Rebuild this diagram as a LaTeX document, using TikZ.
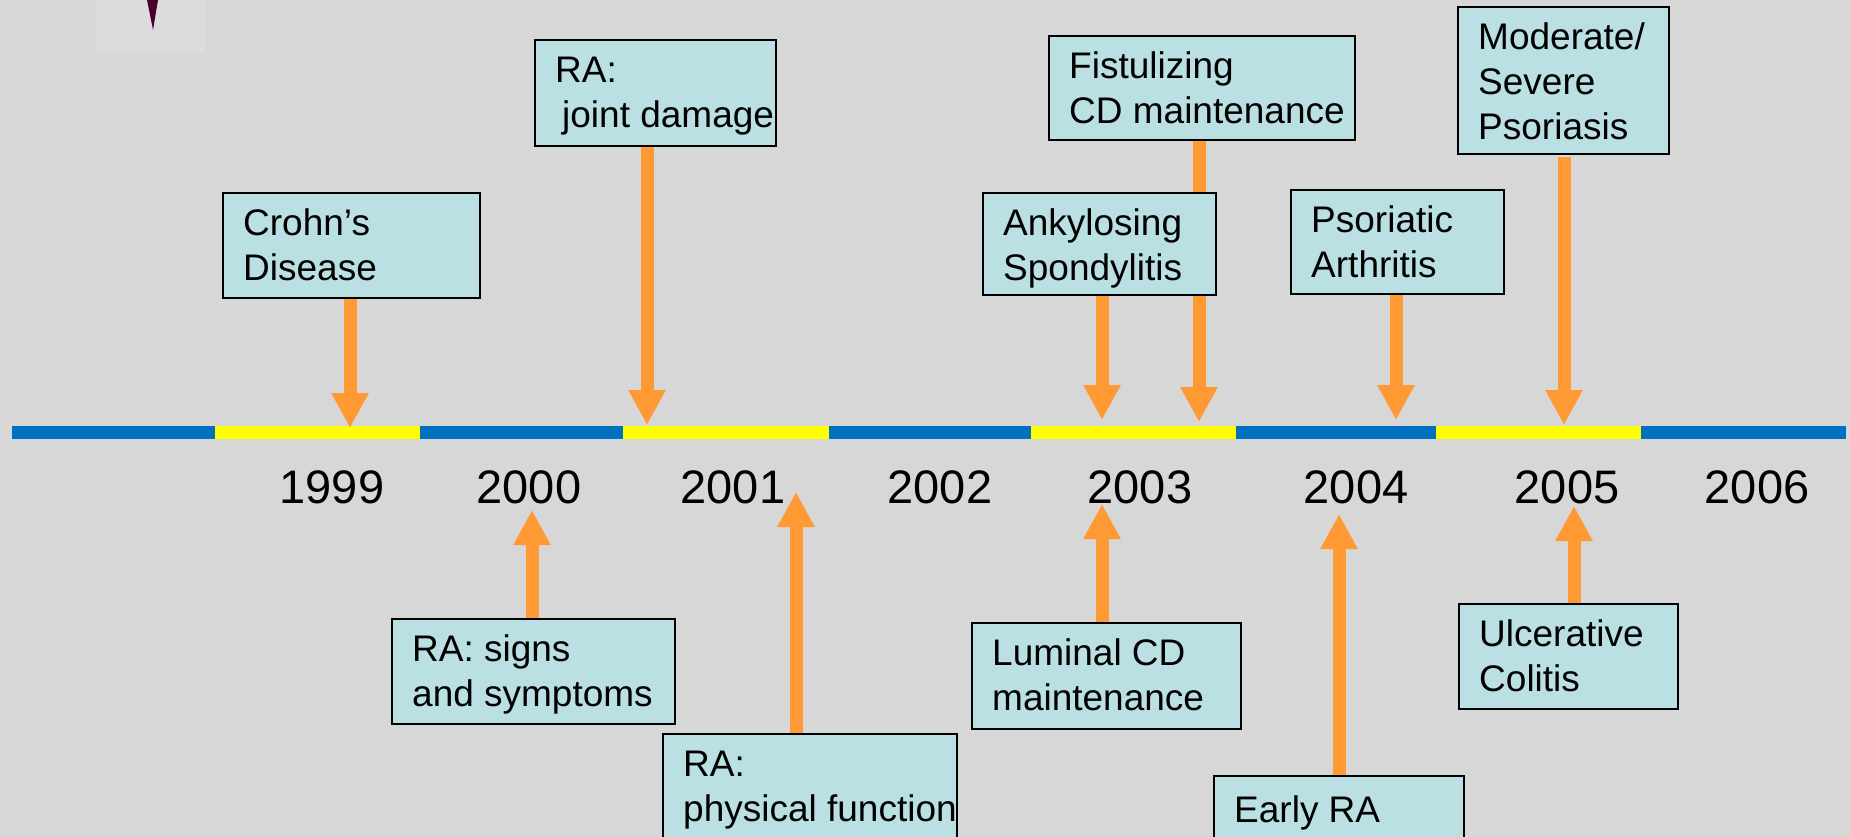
\documentclass[tikz,border=0pt]{standalone}
\usepackage{fontspec}
\setmainfont{Liberation Sans}
\usetikzlibrary{arrows.meta}
\definecolor{bggray}{RGB}{215,215,215}
\definecolor{boxfill}{RGB}{187,224,227}
\definecolor{arrorange}{RGB}{255,153,51}
\definecolor{lineblue}{RGB}{0,112,192}
\definecolor{lineyellow}{RGB}{255,255,0}
\definecolor{logobg}{RGB}{220,220,220}
\definecolor{logopurple}{RGB}{75,0,45}
\pgfdeclarelayer{bg}
\pgfdeclarelayer{arrowlayer}
\pgfsetlayers{bg,arrowlayer,main}
\tikzset{
  evbox/.style={draw=black, line width=2pt, fill=boxfill, rectangle, inner sep=0pt, anchor=north west},
  lbl/.style={font=\fontsize{37}{45}\selectfont, align=left, anchor=north west, inner sep=0pt, xshift=21pt, yshift=-11.5pt},
  yearlbl/.style={font=\fontsize{47}{56}\selectfont, anchor=base, inner sep=0pt},
  arr/.style={draw=arrorange, line width=13pt, line cap=butt, -{Triangle[width=35pt,length=35pt]}}
}
\begin{document}
\begin{tikzpicture}[x=1pt,y=-1pt]
\useasboundingbox (0,0) rectangle (1850,837);
\begin{pgfonlayer}{bg}
\fill[bggray] (0,0) rectangle (1850,837);
\fill[logobg] (96,0) rectangle (205,53);
\fill[logopurple] (147,0) -- (158,0) -- (153,30) -- cycle;
% timeline
\fill[lineblue]   (12,426) rectangle (215,439);
\fill[lineyellow] (215,426) rectangle (420,439);
\fill[lineblue]   (420,426) rectangle (623,439);
\fill[lineyellow] (623,426) rectangle (829,439);
\fill[lineblue]   (829,426) rectangle (1031,439);
\fill[lineyellow] (1031,426) rectangle (1236,439);
\fill[lineblue]   (1236,426) rectangle (1436,439);
\fill[lineyellow] (1436,426) rectangle (1641,439);
\fill[lineblue]   (1641,426) rectangle (1846,439);
\end{pgfonlayer}
\clip (0,0) rectangle (1850,837);

% year labels
\node[yearlbl] (y1999) at (332,503) {1999};
\node[yearlbl] (y2000) at (529,503) {2000};
\node[yearlbl] (y2001) at (733,503) {2001};
\node[yearlbl] (y2002) at (940,503) {2002};
\node[yearlbl] (y2003) at (1140,503) {2003};
\node[yearlbl] (y2004) at (1356,503) {2004};
\node[yearlbl] (y2005) at (1567,503) {2005};
\node[yearlbl] (y2006) at (1757,503) {2006};

% upper boxes
\node[evbox, minimum width=257pt, minimum height=105pt] (crohn) at (222,192) {};
\node[lbl] (crohnt) at (crohn.north west) {\strut Crohn’s\\Disease};
\node[evbox, minimum width=241pt, minimum height=106pt] (joint) at (534,39) {};
\node[lbl] (jointt) at (joint.north west) {\strut RA:\\\hspace{7pt}joint damage};
\node[evbox, minimum width=306pt, minimum height=104pt] (fist) at (1048,35) {};
\node[lbl] (fistt) at (fist.north west) {\strut Fistulizing\\CD maintenance};
\node[evbox, minimum width=233pt, minimum height=102pt] (ank) at (982,192) {};
\node[lbl] (ankt) at (ank.north west) {\strut Ankylosing\\Spondylitis};
\node[evbox, minimum width=213pt, minimum height=104pt] (psa) at (1290,189) {};
\node[lbl] (psat) at (psa.north west) {\strut Psoriatic\\Arthritis};
\node[evbox, minimum width=211pt, minimum height=147pt] (mod) at (1457,6) {};
\node[lbl] (modt) at (mod.north west) {\strut Moderate/\\Severe\\Psoriasis};

% lower boxes
\node[evbox, minimum width=283pt, minimum height=105pt] (signs) at (391,618) {};
\node[lbl] (signst) at (signs.north west) {\strut RA: signs\\and symptoms};
\node[evbox, minimum width=294pt, minimum height=110pt] (phys) at (662,733) {};
\node[lbl] (physt) at (phys.north west) {\strut RA:\\physical function};
\node[evbox, minimum width=269pt, minimum height=106pt] (lum) at (971,622) {};
\node[lbl] (lumt) at (lum.north west) {\strut Luminal CD\\maintenance};
\node[evbox, minimum width=250pt, minimum height=110pt] (early) at (1213,775) {};
\node[lbl, yshift=-4pt] (earlyt) at (early.north west) {\strut Early RA};
\node[evbox, minimum width=219pt, minimum height=105pt] (uc) at (1458,603) {};
\node[lbl] (uct) at (uc.north west) {\strut Ulcerative\\Colitis};

% arrow tip coordinates
\coordinate (tcrohn) at (350,428);
\coordinate (tjoint) at (647,425);
\coordinate (tank) at (1102,420);
\coordinate (tfist) at (1199,422);
\coordinate (tpsa) at (1396,420);
\coordinate (tmod) at (1564,425);
\coordinate (smod) at (1564,157);
\coordinate (tsigns) at (532,510);
\coordinate (tphys) at (796,492);
\coordinate (tlum) at (1102,504);
\coordinate (tearly) at (1339,514);
\coordinate (tuc) at (1574,506);

\begin{pgfonlayer}{arrowlayer}
\draw[arr] (crohn.south -| tcrohn) -- (tcrohn);
\draw[arr] (joint.south -| tjoint) -- (tjoint);
\draw[arr] (ank.south -| tank) -- (tank);
\draw[arr] (fist.south -| tfist) -- (tfist);
\draw[arr] (psa.south -| tpsa) -- (tpsa);
\draw[arr] (smod) -- (tmod);
\draw[arr] (signs.north -| tsigns) -- (tsigns);
\draw[arr] (phys.north -| tphys) -- (tphys);
\draw[arr] (lum.north -| tlum) -- (tlum);
\draw[arr] (early.north -| tearly) -- (tearly);
\draw[arr] (uc.north -| tuc) -- (tuc);
\end{pgfonlayer}
\end{tikzpicture}
\end{document}
